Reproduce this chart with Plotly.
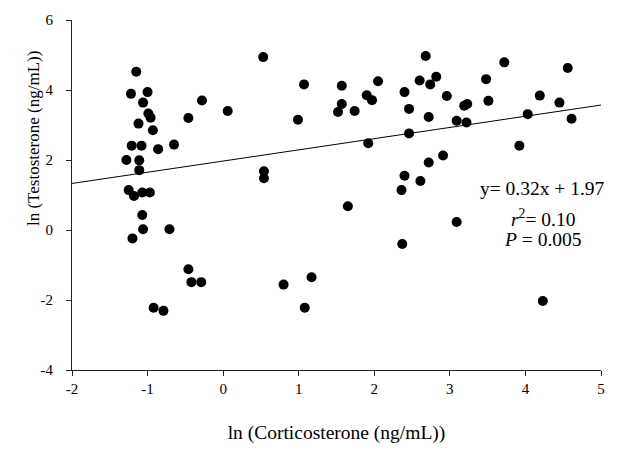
import plotly.graph_objects as go

# ln(corticosterone) values
cort = [-1.15, -1.22, -1.00, -1.06, -0.99, -0.96, -1.12, -0.93, -0.46, -1.21,
        -1.08, -0.86, -0.65, -1.28, -1.11, -1.11, -1.25, -1.18, -1.07, -0.97,
        -1.07, -1.06, -1.20, -0.71, -0.46, -0.42, -0.29, -0.92, -0.79, -0.28,
        0.06, 0.53, 0.54, 0.54, 0.99, 0.80, 1.07, 1.08, 1.17, 1.57,
        1.57, 1.52, 1.74, 1.65, 1.90, 1.97, 1.92, 2.05, 2.40, 2.60,
        2.68, 2.82, 2.74, 2.96, 2.46, 2.72, 3.19, 3.23, 3.09, 3.22,
        2.46, 2.91, 2.72, 2.40, 2.61, 2.36, 2.37, 3.09, 3.72, 3.48,
        3.51, 4.03, 3.92, 4.56, 4.19, 4.45, 4.61, 4.23]
# ln(testosterone) values
testo = [4.52, 3.89, 3.94, 3.64, 3.33, 3.21, 3.04, 2.85, 3.20, 2.41,
         2.41, 2.31, 2.44, 2.00, 1.99, 1.71, 1.14, 0.97, 1.07, 1.07,
         0.43, 0.02, -0.24, 0.02, -1.12, -1.49, -1.49, -2.22, -2.31, 3.70,
         3.40, 4.94, 1.68, 1.48, 3.15, -1.56, 4.16, -2.22, -1.35, 4.12,
         3.60, 3.37, 3.40, 0.68, 3.85, 3.71, 2.48, 4.25, 3.94, 4.27,
         4.97, 4.38, 4.16, 3.83, 3.46, 3.23, 3.55, 3.60, 3.12, 3.07,
         2.76, 2.13, 1.93, 1.55, 1.40, 1.14, -0.40, 0.23, 4.79, 4.31,
         3.69, 3.31, 2.41, 4.63, 3.84, 3.64, 3.18, -2.03]

slope = 0.32
intercept = 1.97
fit_x = [-2, 5]
fit_y = [slope * v + intercept for v in fit_x]

x_ticks = [-2, -1, 0, 1, 2, 3, 4, 5]
y_ticks = [-4, -2, 0, 2, 4, 6]

font_family = "Liberation Serif, Times New Roman, serif"

fig = go.Figure()
fig.add_trace(go.Scatter(x=fit_x, y=fit_y, mode="lines",
                         line=dict(color="black", width=1), hoverinfo="skip"))
fig.add_trace(go.Scatter(x=cort, y=testo, mode="markers",
                         marker=dict(color="black", size=10, line=dict(width=0))))

fig.update_layout(
    width=617, height=452,
    margin=dict(l=72, r=16, t=15, b=77),
    paper_bgcolor="white", plot_bgcolor="white",
    showlegend=False,
    font=dict(family=font_family, color="black", size=15),
    xaxis=dict(range=[-2, 5], tickvals=x_ticks, ticktext=[str(v) for v in x_ticks],
               showgrid=False, zeroline=False, showline=True, linecolor="#222",
               linewidth=1, ticks="outside", ticklen=5, tickcolor="#222",
               tickfont=dict(size=15, family=font_family),
               title=dict(text="ln (Corticosterone (ng/mL))", standoff=29,
                          font=dict(size=19.5, family=font_family))),
    yaxis=dict(range=[-4, 6], tickvals=y_ticks, ticktext=[str(v) for v in y_ticks],
               showgrid=False, zeroline=False, showline=True, linecolor="#222",
               linewidth=1, ticks="outside", ticklen=5, tickcolor="#222",
               ticklabelstandoff=10,
               tickfont=dict(size=15, family=font_family)),
)

# y-axis title placed like the reference (upper part of the axis)
fig.add_annotation(x=-0.0737, y=0.66, xref="paper", yref="paper",
                   text="ln (Testosterone (ng/mL))", textangle=-90,
                   xanchor="center", yanchor="middle", showarrow=False,
                   font=dict(size=17, family=font_family, color="black"))

ann_font = dict(size=19.5, family=font_family, color="black")
fig.add_annotation(x=4.23, y=1.19, xref="x", yref="y", text="y= 0.32x + 1.97",
                   showarrow=False, font=ann_font)
fig.add_annotation(x=4.23, y=0.33, xref="x", yref="y", text="<i>r</i><sup>2</sup>= 0.10",
                   showarrow=False, font=ann_font)
fig.add_annotation(x=4.23, y=-0.28, xref="x", yref="y", text="<i>P</i> = 0.005",
                   showarrow=False, font=ann_font)

fig.write_html("out.html", config={"displayModeBar": False},
               post_script="document.body.style.margin='0';")
